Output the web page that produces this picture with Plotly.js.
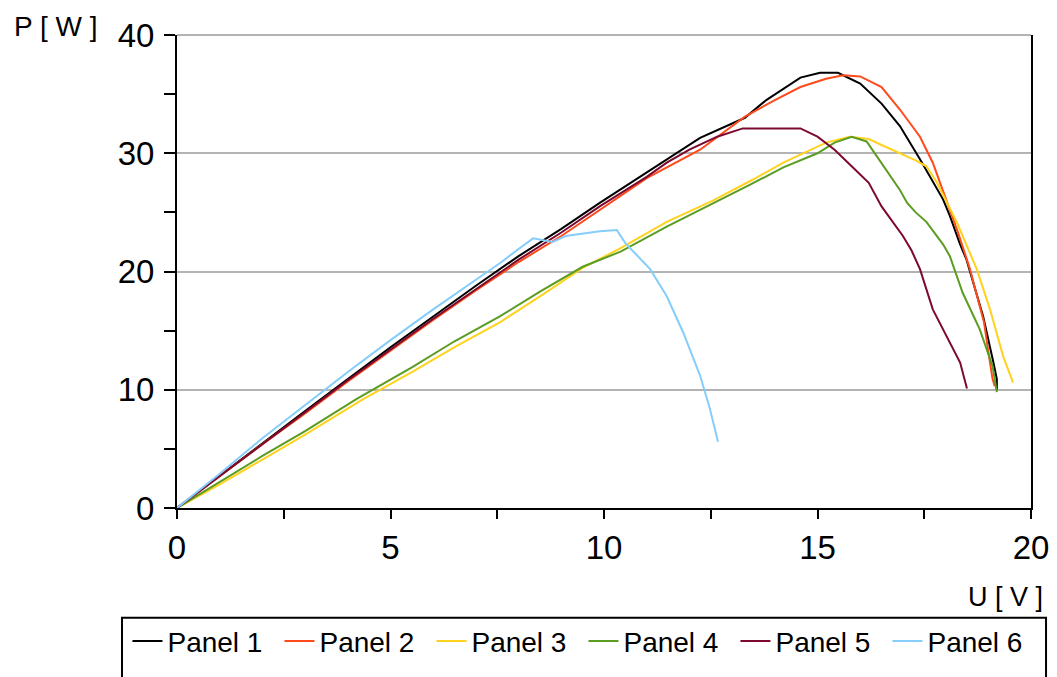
<!DOCTYPE html>
<html>
<head>
<meta charset="utf-8">
<script src="https://cdn.plot.ly/plotly-3.0.1.min.js"></script>
<style>html,body{margin:0;padding:0;background:#fff;}#chart{width:1057px;height:677px;}</style>
</head>
<body>
<div id="chart"></div>
<script>
// Panel 1 (black)
var p1U = [0, 1, 2, 3, 4, 5, 6, 7, 8, 9, 9.9, 11, 12.25, 13.3, 13.8, 14.6, 15.06, 15.48, 16.0, 16.5, 16.93, 17.4, 17.94, 18.1, 18.34, 18.49, 18.88, 19.12, 19.2, 19.2];
var p1P = [0, 2.75, 5.5, 8.2, 10.9, 13.6, 16.2, 18.8, 21.3, 23.6, 25.8, 28.4, 31.3, 33.0, 34.5, 36.4, 36.8, 36.8, 35.9, 34.2, 32.3, 29.5, 26.1, 24.7, 22.3, 21.0, 16.2, 12.3, 10.9, 10.0];
// Panel 2 (orange-red)
var p2U = [0, 1, 2, 3, 4, 5, 6, 7, 8, 9, 9.9, 11, 12.25, 13.3, 14.0, 14.6, 15.2, 15.6, 16.0, 16.5, 16.93, 17.4, 17.7, 18.1, 18.3, 18.57, 18.9, 19.04, 19.1, 19.15];
var p2P = [0, 2.7, 5.4, 8.0, 10.7, 13.3, 15.9, 18.4, 20.8, 23.0, 25.2, 27.9, 30.3, 33.1, 34.5, 35.6, 36.3, 36.6, 36.5, 35.6, 33.7, 31.4, 29.2, 25.2, 23.2, 20.2, 15.7, 12.3, 10.9, 10.3];
// Panel 3 (yellow)
var p3U = [0, 1, 2, 3, 4.36, 5.5, 6.5, 7.56, 8.5, 9.5, 10.4, 11.47, 12.55, 13.5, 14.2, 15.2, 15.76, 16.2, 16.5, 17.3, 17.55, 17.8, 18.27, 18.73, 19.04, 19.35, 19.58];
var p3P = [0, 2.0, 4.1, 6.2, 9.2, 11.5, 13.6, 15.7, 17.9, 20.3, 22.0, 24.2, 26.0, 27.8, 29.2, 30.9, 31.4, 31.2, 30.7, 29.4, 28.9, 27.5, 24.1, 20.2, 16.8, 12.8, 10.6];
// Panel 4 (green)
var p4U = [0, 1, 2, 3, 4.2, 5.5, 6.5, 7.56, 8.5, 9.5, 10.4, 11.47, 12.7, 13.4, 14.2, 15.0, 15.4, 15.8, 16.15, 16.5, 16.93, 17.1, 17.3, 17.55, 17.94, 18.1, 18.4, 18.8, 19.1, 19.2];
var p4P = [0, 2.2, 4.4, 6.5, 9.2, 11.9, 14.1, 16.2, 18.3, 20.4, 21.7, 23.8, 26.0, 27.3, 28.8, 30.0, 30.9, 31.4, 31.0, 29.2, 26.9, 25.8, 25.0, 24.2, 22.3, 21.3, 18.2, 15.1, 12.0, 9.8];
// Panel 5 (maroon)
var p5U = [0, 1, 2, 3, 4, 5, 6, 7, 8, 9, 9.9, 11, 11.47, 12.0, 12.65, 13.25, 14.6, 15.0, 15.4, 15.8, 16.2, 16.5, 17.0, 17.2, 17.4, 17.7, 18.1, 18.34, 18.5];
var p5P = [0, 2.7, 5.4, 8.1, 10.8, 13.4, 16.0, 18.5, 21.0, 23.3, 25.5, 28.0, 29.2, 30.3, 31.4, 32.1, 32.1, 31.4, 30.3, 28.9, 27.5, 25.5, 23.0, 21.8, 20.2, 16.8, 14.0, 12.3, 10.1];
// Panel 6 (light blue)
var p6U = [0, 1, 2, 3, 4, 5, 6, 7, 7.56, 8.0, 8.34, 8.8, 9.1, 9.9, 10.3, 10.5, 11.08, 11.47, 11.86, 12.25, 12.48, 12.67];
var p6P = [0, 2.9, 5.9, 8.7, 11.5, 14.2, 16.8, 19.3, 20.7, 21.9, 22.8, 22.5, 23.0, 23.4, 23.5, 22.4, 20.2, 17.9, 14.8, 11.2, 8.4, 5.6];

var names = ['Panel 1', 'Panel 2', 'Panel 3', 'Panel 4', 'Panel 5', 'Panel 6'];
var colors = ['#000000', '#ff4b1c', '#ffd21f', '#5b9c22', '#7d0a2e', '#85cdfa'];
var xs = [p1U, p2U, p3U, p4U, p5U, p6U];
var ys = [p1P, p2P, p3P, p4P, p5P, p6P];

var FONT = 'Liberation Sans, Arial, sans-serif';
var traces = names.map(function (n, i) {
  return {x: xs[i], y: ys[i], name: n, type: 'scatter', mode: 'lines',
          line: {color: colors[i], width: 2}};
});

var layout = {
  width: 1057, height: 677,
  margin: {l: 177, r: 26, t: 35, b: 168},
  paper_bgcolor: '#fff', plot_bgcolor: '#fff',
  font: {family: FONT, color: '#000'},
  showlegend: true,
  xaxis: {
    range: [0, 20], dtick: 5, tick0: 0, showgrid: false, zeroline: false,
    showline: true, linecolor: '#000', linewidth: 2,
    ticks: 'outside', ticklen: 9, tickwidth: 2, tickcolor: '#000',
    minor: {dtick: 2.5, ticks: 'outside', ticklen: 9, tickwidth: 2, tickcolor: '#000', showgrid: false},
    tickfont: {family: FONT, size: 33, color: '#000'}
  },
  yaxis: {
    range: [0, 40], dtick: 10, tick0: 0, showgrid: true, gridcolor: '#b3b3b3', gridwidth: 2,
    zeroline: false, showline: true, linecolor: '#000', linewidth: 2, mirror: true,
    ticks: 'outside', ticklen: 11, tickwidth: 2, tickcolor: '#000', ticklabelstandoff: 3,
    minor: {dtick: 5, ticks: 'outside', ticklen: 11, tickwidth: 2, tickcolor: '#000', showgrid: false},
    tickfont: {family: FONT, size: 33, color: '#000'}
  },
  legend: {
    orientation: 'h', x: -0.058, xanchor: 'left', y: -0.2265, yanchor: 'top',
    font: {family: FONT, size: 28, color: '#000'},
    borderwidth: 0, bgcolor: 'rgba(0,0,0,0)', entrywidth: 107, entrywidthmode: 'pixels',
    itemwidth: 30, traceorder: 'normal'
  },
  shapes: [
    {type: 'rect', xref: 'paper', yref: 'paper', x0: -0.0644, x1: 1.0176, y0: -0.232, y1: -0.45,
     line: {color: '#000', width: 2}, fillcolor: 'rgba(0,0,0,0)', layer: 'below'},
    {type: 'line', xref: 'paper', yref: 'paper', x0: 0, x1: 1, y0: 1, y1: 1,
     line: {color: '#b3b3b3', width: 2}, layer: 'below'}
  ],
  annotations: [
    {text: 'P [ W ]', xref: 'paper', yref: 'paper', x: -0.1417, y: 1.019, xanchor: 'center', yanchor: 'middle',
     showarrow: false, font: {family: FONT, size: 28, color: '#000'}},
    {text: 'U [ V ]', xref: 'paper', yref: 'paper', x: 1.0164, y: -0.1878, xanchor: 'right', yanchor: 'middle',
     showarrow: false, font: {family: FONT, size: 27, color: '#000'}}
  ]
};

Plotly.newPlot('chart', traces, layout, {displayModeBar: false, staticPlot: true});
</script>
</body>
</html>
